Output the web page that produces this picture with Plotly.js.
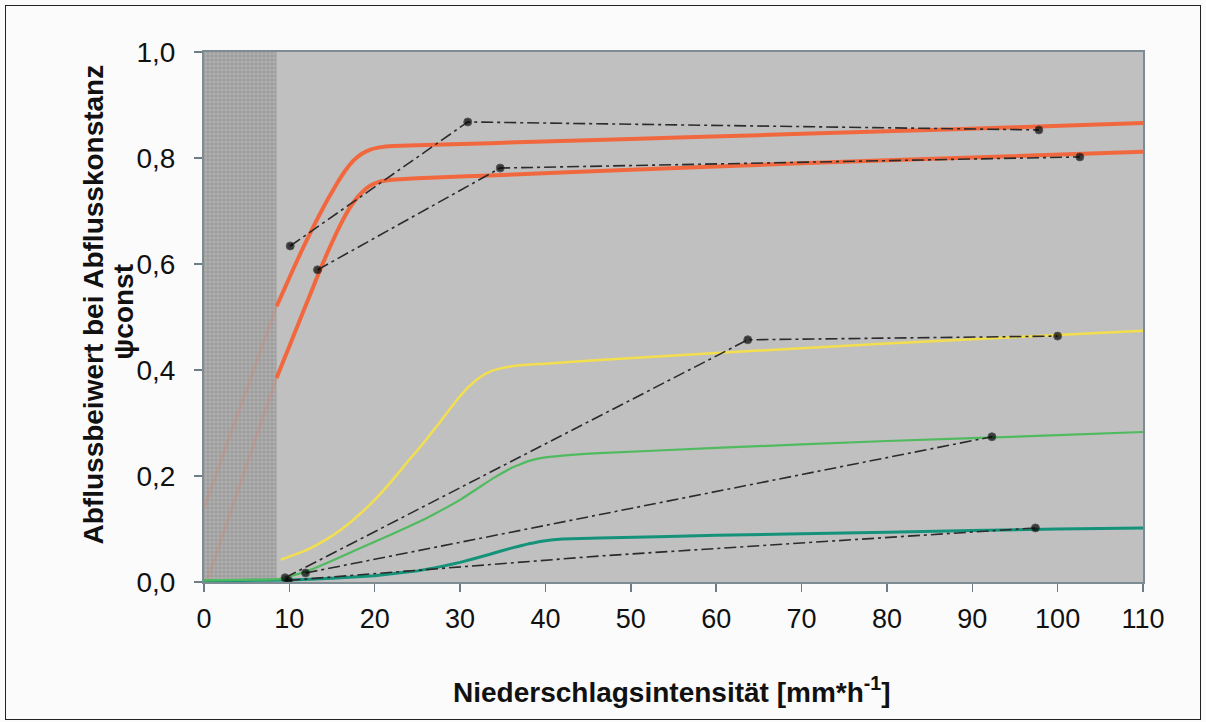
<!DOCTYPE html>
<html>
<head>
<meta charset="utf-8">
<script src="https://cdn.plot.ly/plotly-3.0.1.min.js"></script>
<style>
  html, body { margin: 0; padding: 0; background: #fbfbfb; }
  #wrap { position: relative; width: 1206px; height: 722px; }
  #chart { width: 1206px; height: 722px; }
  #frame { position: absolute; left: 5px; top: 5px; width: 1194px; height: 713px;
           border: 1.5px solid #222; pointer-events: none; }
</style>
</head>
<body>
<div id="wrap">
  <div id="chart"></div>
  <div id="frame"></div>
</div>
<script>
// ---- data ----
const xTickVals = [0, 10, 20, 30, 40, 50, 60, 70, 80, 90, 100, 110];
const yTickVals = [0, 0.2, 0.4, 0.6, 0.8, 1.0];

// shaded (excluded) intensity range
const hatchX = [0, 8.5];

// upper red curve
const redUpperX = [8.5, 9.5, 10.5, 11.5, 12.5, 13.5, 14.5, 15.5, 16.5, 17.5, 18.5, 19.5, 21, 23, 27, 33.5, 50, 65, 79, 95, 110];
const redUpperY = [0.52, 0.556, 0.592, 0.627, 0.66, 0.692, 0.722, 0.75, 0.775, 0.795, 0.808, 0.816, 0.821, 0.823, 0.825, 0.828, 0.836, 0.843, 0.85, 0.858, 0.866];
// faint continuation inside shaded range
const redUpperExtX = [0, 8.5];
const redUpperExtY = [0.14, 0.52];

// lower red curve
const redLowerX = [8.5, 9.5, 10.5, 11.5, 12.5, 13.5, 14.5, 15.5, 16.5, 17.5, 18.5, 19.5, 20.5, 22, 25, 35, 50, 70, 90, 110];
const redLowerY = [0.385, 0.425, 0.465, 0.505, 0.545, 0.585, 0.623, 0.658, 0.69, 0.716, 0.735, 0.748, 0.755, 0.759, 0.762, 0.768, 0.778, 0.79, 0.801, 0.812];
const redLowerExtX = [0.3, 8.5];
const redLowerExtY = [0.0, 0.385];

// yellow curve
const yellowX = [9, 12, 14, 16, 17.9, 20, 21.8, 23.7, 25.7, 27.7, 29.6, 31, 32.3, 33.5, 35, 37, 40, 46.3, 60, 80, 100, 110];
const yellowY = [0.042, 0.06, 0.077, 0.098, 0.123, 0.155, 0.187, 0.224, 0.262, 0.303, 0.343, 0.368, 0.386, 0.397, 0.404, 0.409, 0.412, 0.419, 0.432, 0.45, 0.466, 0.474];

// light green curve
const greenX = [0, 9, 12, 15, 18, 22, 26, 28, 30, 32, 34, 36, 38, 40, 43, 46.3, 60, 80, 100, 110];
const greenY = [0.003, 0.006, 0.02, 0.04, 0.062, 0.09, 0.12, 0.137, 0.155, 0.176, 0.197, 0.215, 0.228, 0.235, 0.24, 0.243, 0.253, 0.266, 0.277, 0.283];

// dark teal curve
const tealX = [0, 10, 15, 20, 25, 28, 30, 33.4, 36, 38, 40, 42, 46.3, 60, 80, 100, 110];
const tealY = [0.002, 0.004, 0.007, 0.012, 0.021, 0.03, 0.037, 0.052, 0.064, 0.072, 0.078, 0.081, 0.083, 0.088, 0.094, 0.1, 0.102];

// measured points joined by dashed lines
const meas1X = [10.1, 30.9, 97.8];
const meas1Y = [0.634, 0.868, 0.853];
const meas2X = [13.3, 34.7, 102.6];
const meas2Y = [0.589, 0.781, 0.802];
const meas3X = [9.5, 63.7, 100.0];
const meas3Y = [0.008, 0.457, 0.464];
const meas4X = [11.9, 92.3];
const meas4Y = [0.017, 0.274];
const meas5X = [9.9, 46.3, 97.4];
const meas5Y = [0.003, 0.049, 0.102];
const meas5Dot = [true, false, true];

// ---- traces ----
const RED = '#f2683e';
const dashStyle = '12px,4px,3px,4px';

function curve(x, y, color, width) {
  return { type: 'scatter', mode: 'lines', x: x, y: y, line: { color: color, width: width, shape: 'spline', smoothing: 0.3 }, hoverinfo: 'skip', showlegend: false };
}
function meas(x, y, dots) {
  const sizes = x.map((_, i) => (dots && !dots[i]) ? 0 : 8);
  return { type: 'scatter', mode: 'lines+markers', x: x, y: y,
    line: { color: '#2b2b2b', width: 1.6, dash: dashStyle },
    marker: { color: '#000', size: sizes }, hoverinfo: 'skip', showlegend: false };
}

const traces = [
  { type: 'scatter', mode: 'lines', x: [hatchX[0], hatchX[1], hatchX[1], hatchX[0], hatchX[0]], y: [0, 0, 1, 1, 0],
    fill: 'toself', fillcolor: '#a2a2a2', line: { width: 0 },
    fillpattern: { shape: '+', fgcolor: '#c2c2c2', bgcolor: '#9c9c9c', size: 4, solidity: 0.25 },
    hoverinfo: 'skip', showlegend: false },
  { type: 'scatter', mode: 'lines', x: redUpperExtX, y: redUpperExtY, line: { color: 'rgba(240,120,90,0.22)', width: 3 }, hoverinfo: 'skip', showlegend: false },
  { type: 'scatter', mode: 'lines', x: redLowerExtX, y: redLowerExtY, line: { color: 'rgba(240,120,90,0.22)', width: 3 }, hoverinfo: 'skip', showlegend: false },
  curve(tealX, tealY, '#14937a', 3),
  curve(greenX, greenY, '#4fba5e', 2.2),
  curve(yellowX, yellowY, '#f3df4e', 2.5),
  curve(redLowerX, redLowerY, RED, 4),
  curve(redUpperX, redUpperY, RED, 4),
  meas(meas1X, meas1Y),
  meas(meas2X, meas2Y),
  meas(meas3X, meas3Y),
  meas(meas4X, meas4Y),
  meas(meas5X, meas5Y, meas5Dot)
];

const font = 'Liberation Sans, Arial, sans-serif';

const layout = {
  width: 1206, height: 722,
  margin: { l: 204, r: 63, t: 52, b: 140 },
  paper_bgcolor: '#fbfbfb',
  plot_bgcolor: '#c0c0c0',
  separators: ',.',
  showlegend: false,
  hovermode: false,
  xaxis: {
    range: [0, 110], tickvals: xTickVals, ticktext: xTickVals.map(String),
    showgrid: false, zeroline: false,
    showline: true, linecolor: '#7d8b92', linewidth: 2, mirror: true,
    ticks: 'outside', ticklen: 8, tickcolor: '#6d7d85', tickwidth: 1.5,
    tickfont: { family: font, size: 27, color: '#111' },
    ticklabelstandoff: 4
  },
  yaxis: {
    range: [0, 1], tickvals: yTickVals, tickformat: '.1f',
    showgrid: false, zeroline: false,
    showline: true, linecolor: '#7d8b92', linewidth: 2, mirror: true,
    ticks: 'outside', ticklen: 8, tickcolor: '#6d7d85', tickwidth: 1.5,
    tickfont: { family: font, size: 28, color: '#111' },
    ticklabelstandoff: 13
  },
  annotations: [
    { xref: 'paper', yref: 'paper', x: 0.498, y: -0.2038, xanchor: 'center', yanchor: 'middle', showarrow: false,
      text: 'Niederschlagsintensität [mm*h<sup>-1</sup>]', font: { family: font, size: 28, color: '#111', weight: 'bold' } },
    { xref: 'paper', yref: 'paper', x: -0.118, y: 0.524, xanchor: 'center', yanchor: 'middle', showarrow: false, textangle: -90,
      text: 'Abflussbeiwert bei Abflusskonstanz', font: { family: font, size: 28, color: '#111', weight: 'bold' } },
    { xref: 'paper', yref: 'paper', x: -0.0851, y: 0.51, xanchor: 'center', yanchor: 'middle', showarrow: false, textangle: -90,
      text: 'ψconst', font: { family: font, size: 28, color: '#111', weight: 'bold' } }
  ]
};

Plotly.newPlot('chart', traces, layout, { staticPlot: true, displayModeBar: false });
</script>
</body>
</html>
